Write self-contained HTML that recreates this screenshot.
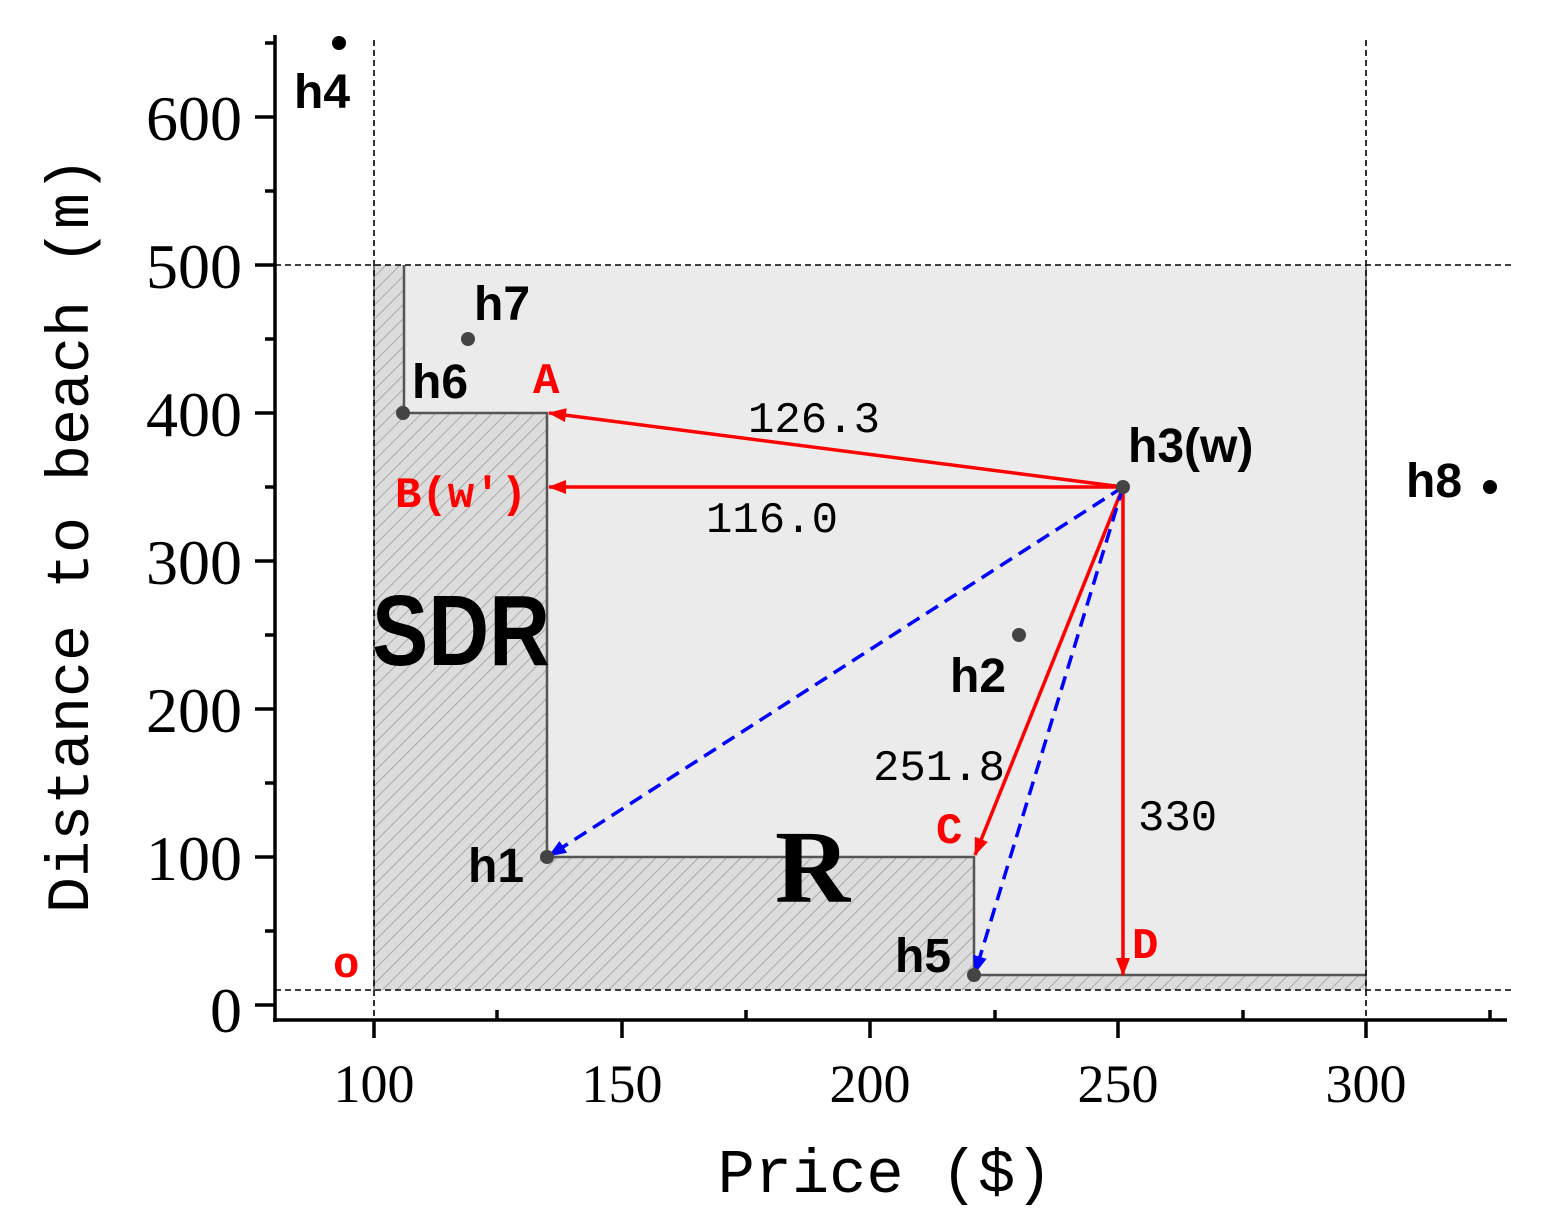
<!DOCTYPE html>
<html><head><meta charset="utf-8"><style>body{margin:0;background:#fff}svg{display:block}</style></head><body>
<svg width="1555" height="1226" xmlns="http://www.w3.org/2000/svg" font-family="Liberation Serif, serif">
<defs>
<pattern id="h" patternUnits="userSpaceOnUse" width="10" height="10" patternTransform="rotate(45)">
<rect width="10" height="10" fill="#dcdcdc"/><line x1="0" y1="0" x2="0" y2="10" stroke="#999" stroke-width="1.5"/></pattern>
<marker id="ar" markerWidth="18" markerHeight="14" refX="17" refY="7" orient="auto" markerUnits="userSpaceOnUse" viewBox="0 0 18 14"><path d="M0,0 L18,7 L0,14 z" fill="red"/></marker>
<marker id="ab" markerWidth="18" markerHeight="14" refX="17" refY="7" orient="auto" markerUnits="userSpaceOnUse" viewBox="0 0 18 14"><path d="M0,0 L18,7 L0,14 z" fill="blue"/></marker>
</defs>
<rect x="374" y="265" width="992" height="725" fill="#ebebeb"/>
<polygon points="374,990 374,265 404,265 404,413 547,413 547,857 974,857 974,975 1366,975 1366,990" fill="url(#h)" stroke="none"/>
<polyline points="404,265 404,413 547,413 547,857 974,857 974,975 1366,975" fill="none" stroke="#555" stroke-width="2.5"/>
<line x1="374" y1="265" x2="374" y2="990" stroke="#555" stroke-width="1.5"/>
<line x1="1366" y1="265" x2="1366" y2="990" stroke="#555" stroke-width="1.5"/>
<g stroke="#000" stroke-width="1.6" stroke-dasharray="6,4">
<line x1="374" y1="40" x2="374" y2="1020"/><line x1="1366" y1="40" x2="1366" y2="1020"/>
<line x1="275" y1="265" x2="1512" y2="265"/><line x1="275" y1="990" x2="1512" y2="990"/>
</g>
<g stroke-width="3.5" fill="none">
<line x1="1123" y1="487" x2="549" y2="413" stroke="red" marker-end="url(#ar)"/>
<line x1="1123" y1="487" x2="549" y2="487" stroke="red" marker-end="url(#ar)"/>
<line x1="1123" y1="487" x2="975" y2="855" stroke="red" marker-end="url(#ar)"/>
<line x1="1123" y1="487" x2="1123" y2="975" stroke="red" marker-end="url(#ar)"/>
<line x1="1123" y1="487" x2="549" y2="856" stroke="blue" stroke-dasharray="14,8" marker-end="url(#ab)"/>
<line x1="1123" y1="487" x2="975" y2="973" stroke="blue" stroke-dasharray="14,8" marker-end="url(#ab)"/>
</g>
<g fill="#444"><circle cx="547" cy="857" r="7"/><circle cx="1019" cy="635" r="7"/><circle cx="1123" cy="487" r="7"/><circle cx="974" cy="975" r="7"/><circle cx="403" cy="413" r="7"/><circle cx="468" cy="339" r="7"/></g>
<g fill="#000"><circle cx="339" cy="43" r="7"/><circle cx="1490" cy="487" r="7"/></g>
<g stroke="#000" stroke-width="3.5" fill="none">
<line x1="275" y1="35" x2="275" y2="1022"/><line x1="273" y1="1020" x2="1507" y2="1020"/>
<path d="M275,117h-20M275,265h-20M275,413h-20M275,561h-20M275,709h-20M275,857h-20M275,1005h-20"/>
<path d="M275,43h-10M275,191h-10M275,339h-10M275,487h-10M275,635h-10M275,783h-10M275,931h-10"/>
<path d="M374,1020v18M622,1020v18M870,1020v18M1118,1020v18M1366,1020v18"/>
<path d="M497,1020v-10M746,1020v-10M995,1020v-10M1243,1020v-10M1490,1020v-10"/>
</g>
<g font-size="64" text-anchor="end"><text x="242" y="140">600</text><text x="242" y="288">500</text><text x="242" y="436">400</text><text x="242" y="584">300</text><text x="242" y="732">200</text><text x="242" y="880">100</text><text x="242" y="1032">0</text></g>
<g font-size="54" text-anchor="middle"><text x="374" y="1102">100</text><text x="622" y="1102">150</text><text x="870" y="1102">200</text><text x="1118" y="1102">250</text><text x="1366" y="1102">300</text></g>
<text x="885" y="1192" font-size="62" text-anchor="middle" font-family="Liberation Mono, monospace">Price ($)</text>
<text transform="translate(88,535) rotate(-90)" font-size="60" text-anchor="middle" font-family="Liberation Mono, monospace">Distance to beach (m)</text>
<g font-size="48" font-family="Liberation Sans, sans-serif" font-weight="bold">
<text x="294" y="108">h4</text><text x="474" y="320">h7</text><text x="412" y="398">h6</text><text x="1128" y="462">h3(w)</text><text x="1406" y="497">h8</text><text x="950" y="692">h2</text><text x="468" y="882">h1</text><text x="895" y="972">h5</text>
</g>
<g font-size="44" fill="red" font-family="Liberation Mono, monospace" font-weight="bold">
<text x="533" y="393">A</text><text x="395" y="507">B(w')</text><text x="936" y="843">C</text><text x="1132" y="958">D</text><text x="333" y="977">o</text>
</g>
<g font-size="44" font-family="Liberation Mono, monospace">
<text x="748" y="432">126.3</text><text x="706" y="532">116.0</text><text x="873" y="780">251.8</text><text x="1138" y="830">330</text>
</g>
<text x="372" y="665" font-size="100" font-family="Liberation Sans Narrow, Liberation Sans, sans-serif" font-weight="bold" textLength="178" lengthAdjust="spacingAndGlyphs">SDR</text>
<text x="775" y="902" font-size="104" font-weight="bold">R</text>
</svg>
</body></html>
